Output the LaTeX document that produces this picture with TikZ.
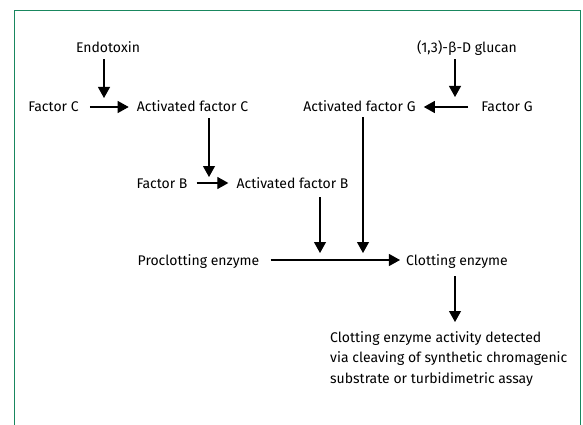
\documentclass[tikz,border=0pt]{standalone}
\usepackage{fontspec}
\setmainfont{Fira Sans}
\usetikzlibrary{arrows.meta,positioning}
\definecolor{boxgreen}{RGB}{25,135,95}

\begin{document}
\begin{tikzpicture}[x=1pt,y=-1pt,node distance={59pt},
        lbl/.style={inner sep=0pt, text height=10pt, text depth=0pt, font=\fontsize{14}{17}\selectfont},
        para/.style={inner sep=0pt, align=left, font=\fontsize{14}{20.5}\selectfont},
        arr/.style={-{Triangle[length=11pt,width=12pt]}, line width=1.1pt}]
            \useasboundingbox (0,0) rectangle (583,425);
            \draw[boxgreen, line width=1.3pt] (14.3,425) |- (580.5,10.5) -- (580.5,425);

            % left branch
            \node[lbl] (endo) at (108,48) {Endotoxin};
            \node[lbl] (facC) [below of=endo, xshift=-54.5pt] {Factor C};
            \node[lbl] (actC) [right of=facC, node distance=139pt] {Activated factor C};
            \node[lbl] (facB) [below of=actC, node distance=76pt, xshift=-30.5pt] {Factor B};
            \node[lbl] (actB) [right of=facB, node distance=130.5pt] {Activated factor B};

            % right branch
            \node[lbl] (glucan) at (467,48) {(1,3)-β-D glucan};
            \node[lbl] (facG) [below of=glucan, xshift=40pt] {Factor G};
            \node[lbl] (actG) [left of=facG, node distance=147.5pt] {Activated factor G};

            % clotting
            \node[lbl] (proc) at (198.5,260) {Proclotting enzyme};
            \node[lbl] (clot) [right of=proc, node distance=258.5pt] {Clotting enzyme};
            \node[para, anchor=north west] (assay) at (330,331)
                {Clotting enzyme activity detected\\via cleaving of synthetic chromagenic\\substrate or turbidimetric assay};

            \coordinate (hitC) at (104,98);
            \coordinate (hitB) at (209,177);
            \coordinate (hitG) at (455,97);
            \coordinate (hitP1) at (320,253);
            \coordinate (hitP2) at (363,253);

            \draw[arr, shorten <=11pt, shorten >=8pt] (facC) -- (actC);
            \draw[arr, shorten <=9pt, shorten >=8pt] (facB) -- (actB);
            \draw[arr, shorten <=13pt, shorten >=8pt] (facG) -- (actG);
            \draw[arr, shorten <=11pt, shorten >=6pt] (proc) -- (clot);

            \draw[arr, shorten <=6pt] (endo.south -| hitC) -- (hitC);
            \draw[arr, shorten <=6pt] (actC.south -| hitB) -- (hitB);
            \draw[arr, shorten <=6pt] (glucan.south -| hitG) -- (hitG);
            \draw[arr, shorten <=9pt] (actB.south -| hitP1) -- (hitP1);
            \draw[arr, shorten <=5pt] (actG.south -| hitP2) -- (hitP2);
            \draw[arr, shorten <=11pt, shorten >=9pt] (clot.south -| 455,0) -- (assay.north -| 455,0);
          \end{tikzpicture}
\end{document}
